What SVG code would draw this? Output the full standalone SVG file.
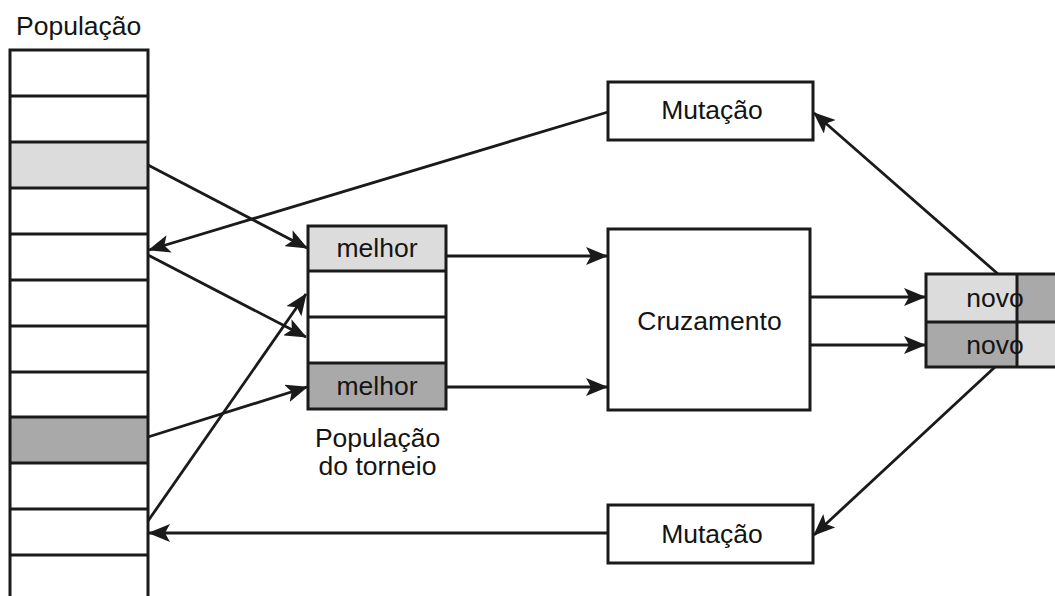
<svg xmlns="http://www.w3.org/2000/svg" width="1055" height="596" viewBox="0 0 1055 596">
  <style>
    .box { fill: #ffffff; stroke: #1a1a1a; stroke-width: 3; }
    .light { fill: #dcdcdc; }
    .dark { fill: #a9a9a9; }
    .line { stroke: #1a1a1a; stroke-width: 3; fill: none; }
    .conn { stroke: #1a1a1a; stroke-width: 2.8; fill: none; marker-end: url(#arrow); }
    text { font-family: "Liberation Sans", Arial, sans-serif; font-size: 26.5px; fill: #141414; }
    .mid { text-anchor: middle; }
  </style>
  <defs>
    <marker id="arrow" viewBox="0 0 22 18" refX="21" refY="9" markerWidth="22" markerHeight="18" markerUnits="userSpaceOnUse" orient="auto">
      <path d="M0,0 L22,9 L0,18 L5,9 z" fill="#1a1a1a"/>
    </marker>
  </defs>

  <rect width="1055" height="596" fill="#ffffff"/>

  <!-- population column -->
  <g id="populacao">
    <text x="16" y="35">População</text>
    <rect x="10" y="142" width="138" height="46" class="light"/>
    <rect x="10" y="417" width="138" height="46" class="dark"/>
    <path class="line" d="M10,600 V50 H148 V600"/>
    <path class="line" d="M10,96 H148 M10,142 H148 M10,188 H148 M10,234 H148 M10,280 H148 M10,326 H148 M10,372 H148 M10,417 H148 M10,463 H148 M10,509 H148 M10,555 H148"/>
  </g>

  <!-- tournament population -->
  <g id="torneio">
    <rect x="308" y="226" width="138" height="45" class="light"/>
    <rect x="308" y="363" width="138" height="46" class="dark"/>
    <rect x="308" y="226" width="138" height="183" fill="none" stroke="#1a1a1a" stroke-width="3"/>
    <path class="line" d="M308,271 H446 M308,317 H446 M308,363 H446"/>
    <text x="377" y="257" class="mid">melhor</text>
    <text x="377" y="395" class="mid">melhor</text>
    <text x="377.5" y="447" class="mid">População</text>
    <text x="377.5" y="475" class="mid">do torneio</text>
  </g>

  <!-- crossover -->
  <g id="cruzamento">
    <rect x="608" y="229" width="202" height="181" class="box"/>
    <text x="709.5" y="330" class="mid">Cruzamento</text>
  </g>

  <!-- mutation, top -->
  <g id="mutacao-topo">
    <rect x="608" y="82" width="205" height="58" class="box"/>
    <text x="712" y="119" class="mid">Mutação</text>
  </g>

  <!-- mutation, bottom -->
  <g id="mutacao-base">
    <rect x="608" y="505" width="205" height="58" class="box"/>
    <text x="712" y="543" class="mid">Mutação</text>
  </g>

  <!-- offspring -->
  <g id="novos">
    <rect x="926" y="274" width="91" height="48" class="light"/>
    <rect x="1017" y="274" width="45" height="48" class="dark"/>
    <rect x="926" y="322" width="91" height="45" class="dark"/>
    <rect x="1017" y="322" width="45" height="45" class="light"/>
    <path class="line" d="M1060,274 H926 V367 H1060 M926,322 H1060 M1017,274 V367"/>
    <text x="995" y="307" class="mid">novo</text>
    <text x="995" y="354" class="mid">novo</text>
  </g>

  <!-- connectors -->
  <g id="conectores">
    <path class="conn" d="M148,165 L307,248"/>
    <path class="conn" d="M608,112 L149,250"/>
    <path class="conn" d="M148,255 L306,337"/>
    <path class="conn" d="M148,521 L306,294"/>
    <path class="conn" d="M148,437 L307,387"/>
    <path class="conn" d="M446,256 L607,256"/>
    <path class="conn" d="M446,387 L607,387"/>
    <path class="conn" d="M810,297 L925,297"/>
    <path class="conn" d="M810,345 L925,345"/>
    <path class="conn" d="M998,274 L814,113"/>
    <path class="conn" d="M995,367 L814,535"/>
    <path class="conn" d="M608,533 L149,533"/>
  </g>
</svg>
